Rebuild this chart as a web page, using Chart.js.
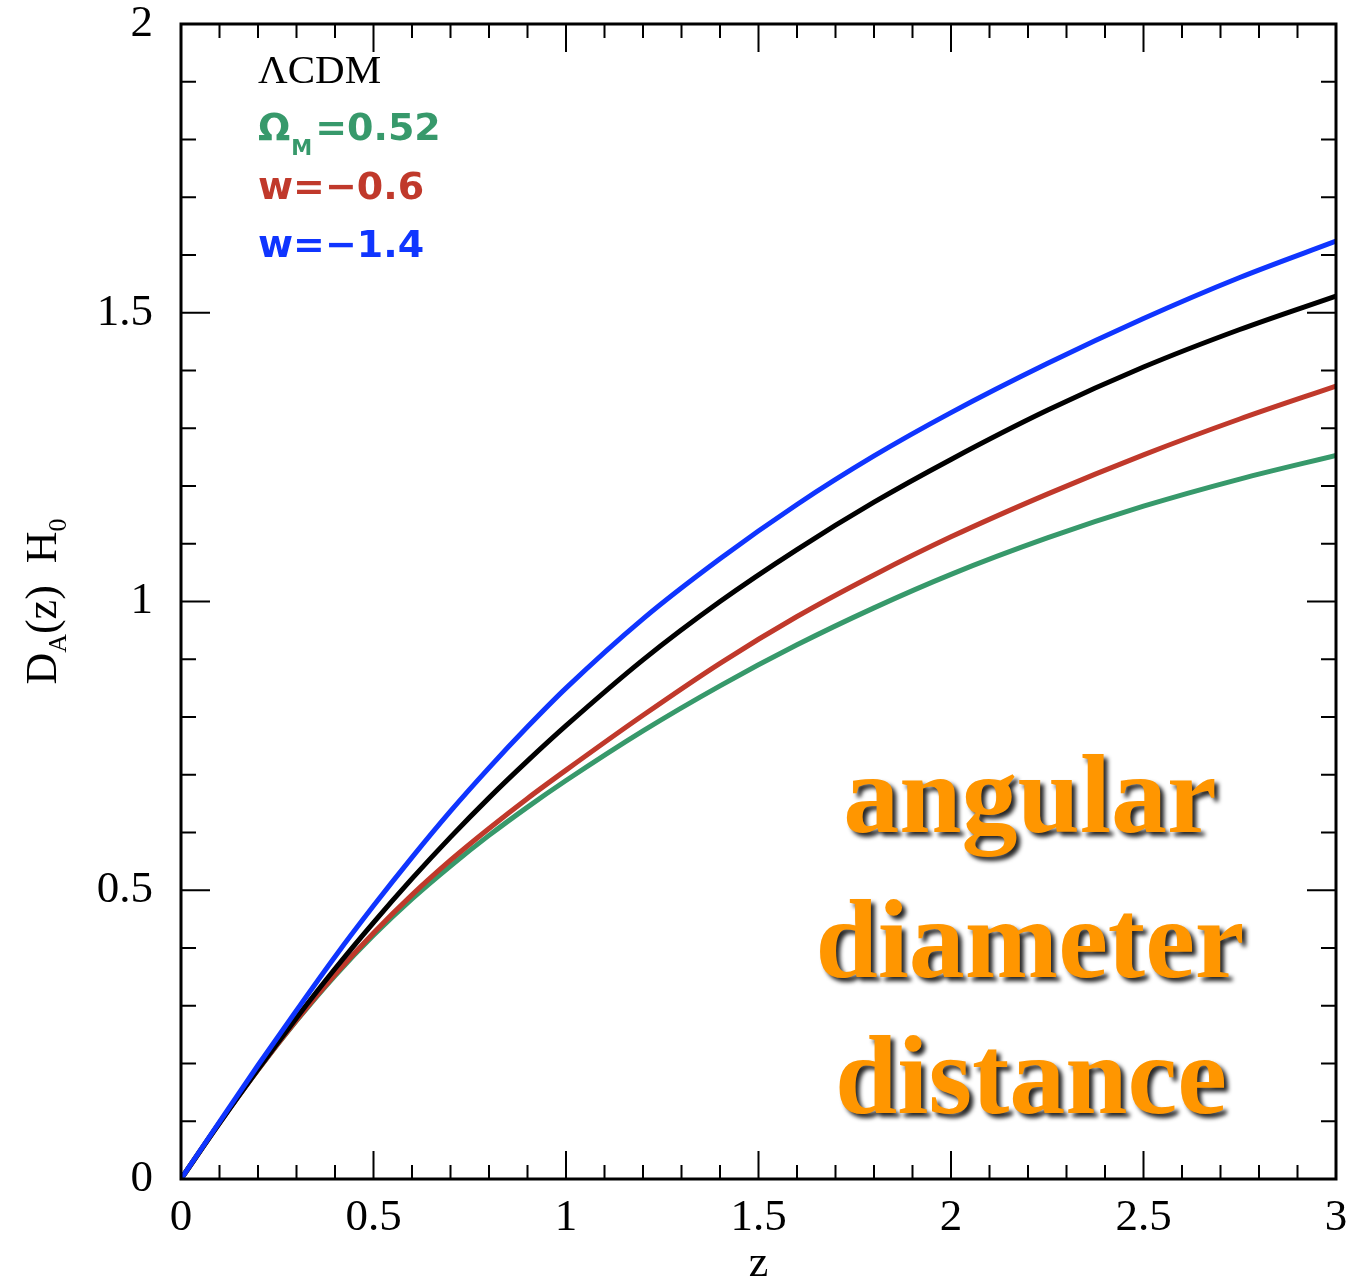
<!DOCTYPE html>
<html>
<head>
<meta charset="utf-8">
<script src="https://cdn.jsdelivr.net/npm/chart.js@4.4.0/dist/chart.umd.min.js"></script>
<style>
  body { margin: 0; background: #fff; }
  #wrap { width: 1350px; height: 1283px; }
</style>
</head>
<body>
<div id="wrap"><canvas id="grafico"></canvas></div>
<script>
// redshift grid
var zValues = [0, 0.1, 0.2, 0.3, 0.4, 0.5, 0.6, 0.7, 0.8, 0.9, 1.0, 1.2, 1.4, 1.6, 1.8, 2.0, 2.25, 2.5, 2.75, 3.0];

// D_A(z) H0
var lcdmValues  = [0, 0.097, 0.190, 0.279, 0.364, 0.444, 0.520, 0.592, 0.660, 0.724, 0.785, 0.899, 1.000, 1.090, 1.172, 1.246, 1.331, 1.406, 1.471, 1.529];
var omegaValues = [0, 0.097, 0.189, 0.274, 0.352, 0.422, 0.485, 0.542, 0.595, 0.644, 0.690, 0.776, 0.854, 0.925, 0.989, 1.047, 1.110, 1.165, 1.212, 1.253];
var w06Values   = [0, 0.097, 0.189, 0.275, 0.354, 0.426, 0.492, 0.552, 0.607, 0.659, 0.708, 0.803, 0.893, 0.974, 1.046, 1.112, 1.186, 1.254, 1.316, 1.373];
var w14Values   = [0, 0.099, 0.197, 0.292, 0.385, 0.473, 0.557, 0.637, 0.712, 0.783, 0.850, 0.970, 1.074, 1.168, 1.252, 1.327, 1.412, 1.490, 1.561, 1.624];

var xTicks = [0, 0.5, 1, 1.5, 2, 2.5, 3];
var yTicks = [0, 0.5, 1, 1.5, 2];

var corVerde = "#37996b";
var corVermelho = "#c0392b";
var corAzul = "#0f35ff";

var serif = "'Liberation Serif', 'Times New Roman', serif";
var sans = "'DejaVu Sans', sans-serif";

function pontos(valores) {
	var arr = [];
	for (var i = 0; i < zValues.length; i++) {
		arr.push({ x: zValues[i], y: valores[i] });
	}
	return arr;
}

// moldura, ticks para dentro, titulos e textos
var decoracao = {
	id: "decoracao",
	afterDraw: function (chart) {
		var ctx = chart.ctx;
		var area = chart.chartArea;
		var sx = chart.scales.x;
		var sy = chart.scales.y;
		ctx.save();

		// ticks menores e maiores nos quatro lados
		ctx.strokeStyle = "#000";
		ctx.lineWidth = 2;
		ctx.beginPath();
		for (var i = 1; i < 30; i++) {
			var v = i / 10;
			var px = sx.getPixelForValue(v);
			var len = i % 5 == 0 ? 28 : 14;
			ctx.moveTo(px, area.bottom);
			ctx.lineTo(px, area.bottom - len);
			ctx.moveTo(px, area.top);
			ctx.lineTo(px, area.top + len);
		}
		for (var j = 1; j < 20; j++) {
			var vy = j / 10;
			var py = sy.getPixelForValue(vy);
			var leny = j % 5 == 0 ? 29 : 15;
			ctx.moveTo(area.left, py);
			ctx.lineTo(area.left + leny, py);
			ctx.moveTo(area.right, py);
			ctx.lineTo(area.right - leny, py);
		}
		ctx.stroke();

		ctx.lineWidth = 3;
		ctx.strokeRect(area.left, area.top, area.right - area.left, area.bottom - area.top);

		// titulo do eixo x
		ctx.fillStyle = "#000";
		ctx.font = "44px " + serif;
		ctx.textAlign = "center";
		ctx.textBaseline = "alphabetic";
		ctx.fillText("z", (area.left + area.right) / 2, 1276);

		// titulo do eixo y com subscritos
		ctx.save();
		ctx.translate(56, (area.top + area.bottom) / 2);
		ctx.rotate(-Math.PI / 2);
		ctx.textAlign = "left";
		var partes = [
			{ t: "D", f: "44px " + serif, dy: 0 },
			{ t: "A", f: "26px " + serif, dy: 10 },
			{ t: "(z)  H", f: "44px " + serif, dy: 0 },
			{ t: "0", f: "26px " + serif, dy: 10 },
		];
		var total = 0;
		for (var k = 0; k < partes.length; k++) {
			ctx.font = partes[k].f;
			total += ctx.measureText(partes[k].t).width;
		}
		var cx = -total / 2;
		for (var k2 = 0; k2 < partes.length; k2++) {
			ctx.font = partes[k2].f;
			ctx.fillText(partes[k2].t, cx, partes[k2].dy);
			cx += ctx.measureText(partes[k2].t).width;
		}
		ctx.restore();

		// rotulos dos modelos
		ctx.textAlign = "left";
		ctx.fillStyle = "#000";
		ctx.font = "41px " + serif;
		ctx.fillText("\u039BCDM", 258, 83);

		ctx.fillStyle = corVerde;
		ctx.font = "bold 38px " + sans;
		ctx.fillText("\u03A9", 258, 140);
		var wOm = ctx.measureText("\u03A9").width;
		ctx.font = "bold 21px " + sans;
		ctx.fillText("M", 258 + wOm + 1, 155);
		var wM = ctx.measureText("M").width;
		ctx.font = "bold 38px " + sans;
		ctx.fillText("=0.52", 258 + wOm + wM + 4, 140);

		ctx.fillStyle = corVermelho;
		ctx.fillText("w=\u22120.6", 258, 199);
		ctx.fillStyle = corAzul;
		ctx.fillText("w=\u22121.4", 258, 257);

		// texto grande laranja com sombra
		ctx.font = "bold 112px " + serif;
		ctx.textAlign = "center";
		ctx.fillStyle = "#ff9600";
		ctx.shadowColor = "rgba(0,0,0,0.85)";
		ctx.shadowOffsetX = 4;
		ctx.shadowOffsetY = 4;
		ctx.shadowBlur = 4;
		ctx.fillText("angular", 1030, 832);
		ctx.fillText("diameter", 1030, 977);
		ctx.fillText("distance", 1031, 1113);

		ctx.restore();
	},
};

function criarDataset(label, valores, cor) {
	return {
		label: label,
		data: pontos(valores),
		borderColor: cor,
		backgroundColor: cor,
		borderWidth: 5,
		pointRadius: 0,
		cubicInterpolationMode: "monotone",
		fill: false,
	};
}

// grade invisivel: so serve para afastar os rotulos do eixo
var gradeX = { display: true, drawOnChartArea: false, drawTicks: true, tickLength: 10, color: "rgba(0,0,0,0)" };
var gradeY = { display: true, drawOnChartArea: false, drawTicks: true, tickLength: 28, color: "rgba(0,0,0,0)" };

new Chart(document.getElementById("grafico"), {
	type: "line",
	data: {
		datasets: [
			criarDataset("w=-1.4", w14Values, corAzul),
			criarDataset("\u039BCDM", lcdmValues, "#000"),
			criarDataset("w=-0.6", w06Values, corVermelho),
			criarDataset("\u03A9M=0.52", omegaValues, corVerde),
		],
	},
	options: {
		responsive: true,
		maintainAspectRatio: false,
		devicePixelRatio: 1,
		animation: false,
		layout: { padding: { top: 24, right: 14, left: 0, bottom: 0 } },
		plugins: {
			legend: { display: false },
			tooltip: { enabled: false },
		},
		scales: {
			x: {
				type: "linear",
				min: 0,
				max: 3,
				afterFit: function (scale) {
					scale.height = 104;
				},
				afterBuildTicks: function (scale) {
					scale.ticks = xTicks.map(function (v) { return { value: v }; });
				},
				grid: gradeX,
				border: { display: false },
				ticks: {
					autoSkip: false,
					maxRotation: 0,
					padding: 2,
					color: "#000",
					font: { family: serif, size: 45 },
					callback: function (v) { return String(v); },
				},
			},
			y: {
				type: "linear",
				min: 0,
				max: 2,
				afterFit: function (scale) {
					scale.width = 181;
				},
				afterBuildTicks: function (scale) {
					scale.ticks = yTicks.map(function (v) { return { value: v }; });
				},
				grid: gradeY,
				border: { display: false },
				ticks: {
					autoSkip: false,
					padding: 0,
					color: "#000",
					font: { family: serif, size: 45, lineHeight: 1.0 },
					callback: function (v) { return String(v); },
				},
			},
		},
	},
	plugins: [decoracao],
});
</script>
</body>
</html>
